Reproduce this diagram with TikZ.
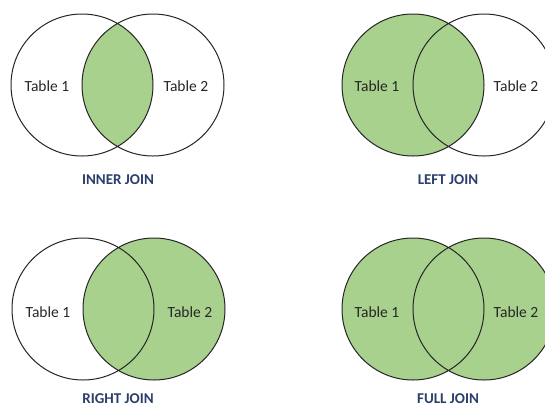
\documentclass[tikz,border=0pt]{standalone}
\usepackage{fontspec}
\setmainfont{Carlito}
\definecolor{joingreen}{HTML}{A9D18E}
\definecolor{joinblue}{HTML}{2B3F6B}
\def\rad{71}

\begin{document}
\begin{tikzpicture}[
  x=1pt, y=-1pt,
  set/.style={draw=black!85, line width=1pt},
  part/.style={fill=joingreen},
  tname/.style={font=\fontsize{15.5}{18}\selectfont, text=black!85},
  jname/.style={font=\fontsize{15}{17}\selectfont\bfseries, text=joinblue, inner sep=0pt},
]
\useasboundingbox (0,0) rectangle (545,408);
\clip (0,0) rectangle (545,408);
% inner join
\begin{scope}
  \clip (82,85) circle[radius=\rad];
  \fill[part] (153,85) circle[radius=\rad];
\end{scope}
\draw[set] (82,85) circle[radius=\rad] (153,85) circle[radius=\rad];
\node[tname] (innerA) at (47,86) {Table 1};
\node[tname] (innerB) at (186,86) {Table 2};
\node[jname] (inner) at (118,180) {INNER JOIN};
% left join
\fill[part] (413,85) circle[radius=\rad];
\draw[set] (413,85) circle[radius=\rad] (484,85) circle[radius=\rad];
\node[tname] (leftA) at (377,86) {Table 1};
\node[tname] (leftB) at (516,86) {Table 2};
\node[jname] (left) at (448,180) {LEFT JOIN};
% right join
\fill[part] (154,309) circle[radius=\rad];
\draw[set] (83,309) circle[radius=\rad] (154,309) circle[radius=\rad];
\node[tname] (rightA) at (48,312) {Table 1};
\node[tname] (rightB) at (190,312) {Table 2};
\node[jname] (right) at (118,398.5) {RIGHT JOIN};
% full join
\fill[part] (413,309) circle[radius=\rad] (484,309) circle[radius=\rad];
\draw[set] (413,309) circle[radius=\rad] (484,309) circle[radius=\rad];
\node[tname] (fullA) at (377,312) {Table 1};
\node[tname] (fullB) at (516,312) {Table 2};
\node[jname] (full) at (448,398.5) {FULL JOIN};
\end{tikzpicture}
\end{document}
